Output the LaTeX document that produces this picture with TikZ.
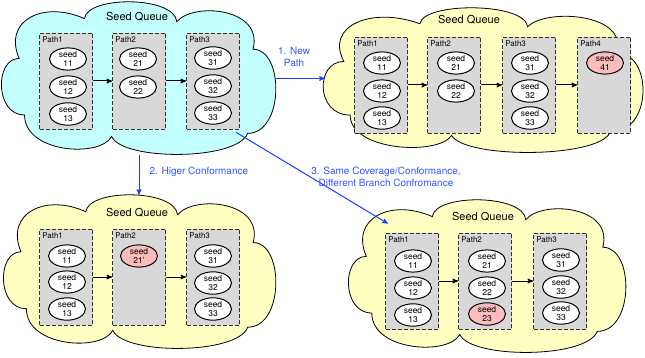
\documentclass[tikz,border=0pt]{standalone}
\usepackage{fontspec}
\setmainfont{TeX Gyre Heros}
\usepackage{xcolor}
\usetikzlibrary{arrows,shapes,positioning}

\definecolor{queuecyan}{RGB}{196,255,255}
\definecolor{queueyellow}{RGB}{255,255,194}
\definecolor{boxgray}{RGB}{216,216,216}
\definecolor{newpink}{RGB}{255,188,188}
\definecolor{linkblue}{RGB}{30,60,255}
\definecolor{textblue}{RGB}{50,85,255}

% cloud outline, in a unit box (u right, v down)
\newcommand{\cloudoutline}{(0.30,0.11) .. controls (0.31,-0.04) and (0.63,-0.04) .. (0.64,0.13)
  .. controls (0.70,0.0) and (0.96,0.04) .. (0.92,0.31)
  .. controls (1.035,0.31) and (1.035,0.86) .. (0.90,0.86)
  .. controls (0.86,1.04) and (0.44,1.04) .. (0.40,0.88)
  .. controls (0.36,1.02) and (0.08,0.99) .. (0.08,0.74)
  .. controls (-0.03,0.74) and (-0.03,0.37) .. (0.06,0.37)
  .. controls (0.0,0.12) and (0.15,-0.01) .. (0.30,0.11) -- cycle}

\tikzset{
  queuearea/.style={ellipse,inner sep=0pt},
  queue/.style={draw,line width=0.8pt},
  pathbox/.style={rectangle,draw=black!80,dash pattern=on 4pt off 2pt,fill=boxgray,line width=0.8pt,minimum width=53pt,minimum height=96pt,inner sep=0pt},
  pathname/.style={inner sep=0pt,font=\fontsize{8}{9}\selectfont},
  seed/.style={ellipse,draw,fill=white,line width=1pt,minimum width=37pt,minimum height=21pt,inner sep=0pt,align=center,font=\fontsize{8.5}{9.5}\selectfont},
  newseed/.style={seed,fill=newpink},
  title/.style={font=\fontsize{11}{12}\selectfont},
  flow/.style={->,>=stealth',line width=1pt},
  rule/.style={->,>=stealth',line width=1pt,draw=linkblue},
  rulename/.style={text=textblue,align=center,font=\fontsize{10}{12}\selectfont}
}

\begin{document}
\begin{tikzpicture}[x=1pt,y=-1pt]
\useasboundingbox (0,0) rectangle (645,358);

% Seed queue before
\node[queuearea,minimum width=272pt,minimum height=153pt] (q1) at (139,78.5) {};
\draw[queue,fill=queuecyan,shift={(q1.west |- q1.north)},xscale=272,yscale=153] \cloudoutline;
\node[title] (t1) at (137,17) {Seed Queue};
\node[pathbox] (a1) at (66,81) {};
\node[pathbox] (a2) at (139,81) {};
\node[pathbox] (a3) at (213,81) {};
\node[pathname,below right=4pt and 3pt of a1.north west] {Path1};
\node[pathname,below right=4pt and 3pt of a2.north west] {Path2};
\node[pathname,below right=4pt and 3pt of a3.north west] {Path3};
\node[seed] (a11) at (68,59) {seed\\11};
\node[seed] (a12) at (68,87) {seed\\12};
\node[seed] (a13) at (68,114) {seed\\13};
\node[seed] (a21) at (138,59) {seed\\21};
\node[seed] (a22) at (138,87) {seed\\22};
\node[seed] (a31) at (213,58) {seed\\31};
\node[seed] (a32) at (213,86) {seed\\32};
\node[seed] (a33) at (213,113) {seed\\33};
\draw[flow] (a1) -- (a2);
\draw[flow] (a2) -- (a3);

% 1. new path
\node[queuearea,minimum width=317pt,minimum height=145pt] (q2) at (483.5,80.5) {};
\draw[queue,fill=queueyellow,shift={(q2.west |- q2.north)},xscale=317,yscale=145] \cloudoutline;
\node[title] (t2) at (469,20) {Seed Queue};
\node[pathbox] (b1) at (381,85) {};
\node[pathbox] (b2) at (454,85) {};
\node[pathbox] (b3) at (529,85) {};
\node[pathbox] (b4) at (604,85) {};
\node[pathname,below right=4pt and 3pt of b1.north west] {Path1};
\node[pathname,below right=4pt and 3pt of b2.north west] {Path2};
\node[pathname,below right=4pt and 3pt of b3.north west] {Path3};
\node[pathname,below right=4pt and 3pt of b4.north west] {Path4};
\node[seed] (b11) at (382,63) {seed\\11};
\node[seed] (b12) at (382,91) {seed\\12};
\node[seed] (b13) at (382,118) {seed\\13};
\node[seed] (b21) at (456,63) {seed\\21};
\node[seed] (b22) at (456,91) {seed\\22};
\node[seed] (b31) at (530,63) {seed\\31};
\node[seed] (b32) at (530,91) {seed\\32};
\node[seed] (b33) at (530,118) {seed\\33};
\node[newseed] (b41) at (605,63) {seed\\41};
\draw[flow] (b1) -- (b2);
\draw[flow] (b2) -- (b3);
\draw[flow] (b3) -- (b4);

% 2. higher conformance
\node[queuearea,minimum width=270pt,minimum height=154pt] (q3) at (140,272) {};
\draw[queue,fill=queueyellow,shift={(q3.west |- q3.north)},xscale=270,yscale=154] \cloudoutline;
\node[title] (t3) at (137,213) {Seed Queue};
\node[pathbox] (c1) at (66,277) {};
\node[pathbox] (c2) at (139,277) {};
\node[pathbox] (c3) at (213,277) {};
\node[pathname,below right=4pt and 3pt of c1.north west] {Path1};
\node[pathname,below right=4pt and 3pt of c2.north west] {Path2};
\node[pathname,below right=4pt and 3pt of c3.north west] {Path3};
\node[seed] (c11) at (67,256) {seed\\11};
\node[seed] (c12) at (67,282) {seed\\12};
\node[seed] (c13) at (67,309) {seed\\13};
\node[newseed] (c21) at (139,256) {seed\\21'};
\node[seed] (c31) at (213,256) {seed\\31};
\node[seed] (c32) at (213,283) {seed\\32};
\node[seed] (c33) at (213,309) {seed\\33};
\draw[flow] (c1) -- (c2);
\draw[flow] (c2) -- (c3);

% 3. same coverage, different branch conformance
\node[queuearea,minimum width=275pt,minimum height=153pt] (q4) at (487.5,276.5) {};
\draw[queue,fill=queueyellow,shift={(q4.west |- q4.north)},xscale=275,yscale=153] \cloudoutline;
\node[title] (t4) at (483,217) {Seed Queue};
\node[pathbox] (d1) at (412,281) {};
\node[pathbox] (d2) at (485,281) {};
\node[pathbox] (d3) at (560,281) {};
\node[pathname,below right=4pt and 3pt of d1.north west] {Path1};
\node[pathname,below right=4pt and 3pt of d2.north west] {Path2};
\node[pathname,below right=4pt and 3pt of d3.north west] {Path3};
\node[seed] (d11) at (413,261) {seed\\11};
\node[seed] (d12) at (413,288) {seed\\12};
\node[seed] (d13) at (413,315) {seed\\13};
\node[seed] (d21) at (487,261) {seed\\21};
\node[seed] (d22) at (487,288) {seed\\22};
\node[newseed] (d23) at (487,314) {seed\\23};
\node[seed] (d31) at (561,260) {seed\\31};
\node[seed] (d32) at (561,287) {seed\\32};
\node[seed] (d33) at (561,313) {seed\\33};
\draw[flow] (d1) -- (d2);
\draw[flow] (d2) -- (d3);

% Rules
\draw[rule] (q1.east) -- (q1.east -| q2.west);
\node[rulename] (r1) at (294,57) {1. New\\Path};
\draw[rule] (q1.south) -- (q1.south |- q3.north);
\node[rulename,anchor=west] (r2) at (146,172) {2. Higer Conformance};
\draw[rule] (q1.-29) -- (q4.152);
\node[rulename] (r3) at (386,177) {3. Same Coverage/Conformance,\\Different Branch Confromance};
\end{tikzpicture}
\end{document}
